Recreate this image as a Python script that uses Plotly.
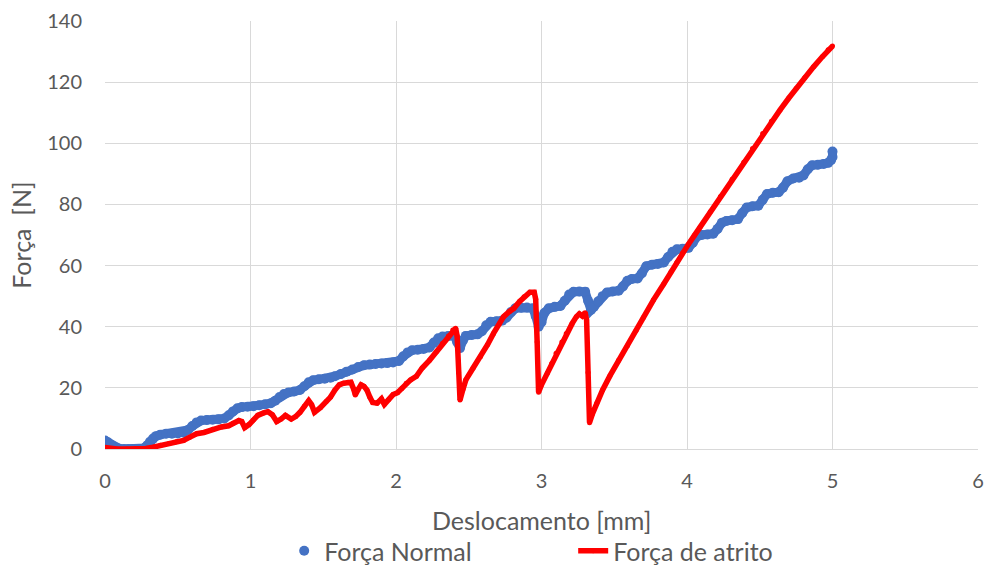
import plotly.graph_objects as go

# Força Normal (blue markers)
normal_x = [0.00, 0.02, 0.04, 0.06, 0.08, 0.10, 0.13, 0.16, 0.19, 0.22, 0.25, 0.27, 0.29, 0.31, 0.33,
            0.35, 0.38, 0.42, 0.46, 0.50, 0.54, 0.57, 0.60, 0.63, 0.66, 0.70, 0.74, 0.78, 0.82, 0.85,
            0.88, 0.91, 0.94, 0.98, 1.02, 1.06, 1.10, 1.14, 1.17, 1.20, 1.23, 1.26, 1.30, 1.34, 1.37,
            1.40, 1.43, 1.47, 1.51, 1.55, 1.58, 1.62, 1.66, 1.70, 1.74, 1.78, 1.82, 1.86, 1.90, 1.94,
            1.98, 2.02, 2.05, 2.08, 2.11, 2.15, 2.19, 2.23, 2.26, 2.29, 2.32, 2.36, 2.40, 2.42, 2.44,
            2.46, 2.48, 2.52, 2.56, 2.59, 2.62, 2.65, 2.69, 2.73, 2.76, 2.79, 2.82, 2.86, 2.90, 2.94,
            2.96, 2.98, 3.00, 3.02, 3.05, 3.09, 3.13, 3.16, 3.19, 3.22, 3.26, 3.30, 3.32, 3.34, 3.36,
            3.39, 3.42, 3.45, 3.49, 3.53, 3.56, 3.59, 3.62, 3.66, 3.69, 3.72, 3.76, 3.80, 3.84, 3.87,
            3.90, 3.93, 3.97, 4.01, 4.04, 4.07, 4.10, 4.14, 4.18, 4.21, 4.24, 4.27, 4.31, 4.35, 4.38,
            4.41, 4.45, 4.49, 4.52, 4.55, 4.59, 4.63, 4.66, 4.69, 4.73, 4.77, 4.80, 4.83, 4.86, 4.90,
            4.94, 4.97, 4.99, 5.00, 5.00]
normal_y = [2.8, 2.2, 1.4, 0.8, 0.4, 0.1, 0.0, 0.0, 0.0, 0.0, 0.0, 0.3, 1.2, 2.4, 3.4,
            4.2, 4.7, 5.0, 5.0, 5.1, 5.3, 6.2, 7.5, 8.7, 9.3, 9.5, 9.6, 9.7, 10.0, 11.0,
            12.3, 13.3, 13.7, 13.8, 14.0, 14.3, 14.6, 15.0, 15.8, 17.0, 18.0, 18.5, 18.8, 19.3, 20.5,
            21.8, 22.5, 22.8, 23.0, 23.3, 23.8, 24.5, 25.3, 26.0, 26.8, 27.4, 27.6, 27.8, 28.0, 28.1,
            28.3, 28.8, 30.3, 31.6, 32.3, 32.5, 32.7, 33.2, 34.8, 36.2, 36.8, 37.0, 37.0, 35.0, 33.0,
            35.5, 37.0, 37.3, 37.5, 38.5, 40.5, 41.6, 41.8, 42.0, 43.0, 44.8, 46.0, 46.2, 46.3, 46.0,
            43.5, 40.0, 41.5, 44.5, 46.0, 46.5, 46.8, 48.5, 50.5, 51.4, 51.5, 51.4, 48.5, 45.5, 46.5,
            48.3, 50.0, 51.2, 51.5, 51.8, 53.2, 55.0, 55.6, 55.8, 57.5, 59.8, 60.3, 60.5, 61.0, 62.8,
            64.5, 65.3, 65.5, 65.8, 67.5, 69.5, 70.0, 70.2, 70.4, 72.0, 74.0, 74.6, 74.8, 75.2, 77.2,
            79.0, 79.4, 79.6, 81.5, 83.4, 83.8, 84.0, 85.5, 87.6, 88.5, 88.7, 89.5, 91.5, 92.8, 93.0,
            93.2, 93.6, 94.5, 95.5, 97.3]

# Força de atrito (red line)
atrito_x = [0.00, 0.03, 0.08, 0.15, 0.22, 0.28, 0.33, 0.38, 0.44, 0.49, 0.54, 0.58, 0.63, 0.68, 0.74,
            0.80, 0.85, 0.88, 0.92, 0.94, 0.96, 0.99, 1.02, 1.05, 1.09, 1.12, 1.15, 1.18, 1.21, 1.24,
            1.28, 1.31, 1.34, 1.37, 1.40, 1.42, 1.44, 1.48, 1.52, 1.55, 1.58, 1.61, 1.64, 1.67, 1.69,
            1.71, 1.72, 1.74, 1.76, 1.78, 1.80, 1.82, 1.84, 1.87, 1.90, 1.92, 1.95, 1.98, 2.01, 2.04,
            2.07, 2.10, 2.14, 2.18, 2.23, 2.28, 2.32, 2.36, 2.39, 2.41, 2.42, 2.43, 2.44, 2.46, 2.48,
            2.53, 2.58, 2.63, 2.67, 2.71, 2.74, 2.78, 2.81, 2.85, 2.88, 2.92, 2.95, 2.96, 2.97, 2.98,
            3.00, 3.04, 3.07, 3.10, 3.14, 3.17, 3.21, 3.24, 3.26, 3.28, 3.29, 3.30, 3.31, 3.32, 3.33,
            3.35, 3.38, 3.42, 3.47, 3.53, 3.59, 3.65, 3.70, 3.77, 3.84, 3.89, 3.93, 3.97, 4.01, 4.05,
            4.09, 4.16, 4.23, 4.31, 4.39, 4.45, 4.52, 4.58, 4.64, 4.70, 4.75, 4.81, 4.87, 4.93, 4.97,
            5.00]
atrito_y = [0.5, 0.2, 0.0, 0.0, 0.0, 0.2, 0.6, 1.2, 1.8, 2.4, 2.8, 3.8, 5.0, 5.4, 6.5,
            7.2, 7.6, 8.4, 9.3, 9.0, 7.0, 8.0, 9.5, 11.0, 11.8, 12.2, 11.2, 9.0, 9.8, 11.0,
            9.8, 10.6, 12.0, 14.0, 15.8, 14.5, 12.0, 13.5, 15.5, 17.0, 19.3, 21.0, 21.5, 21.8, 21.8,
            19.5, 17.7, 19.5, 21.0, 20.5, 19.3, 17.0, 15.2, 15.0, 16.4, 14.6, 16.2, 17.8, 18.4, 19.8,
            21.5, 22.6, 23.8, 26.5, 29.0, 32.0, 34.6, 37.0, 38.9, 39.5, 37.0, 25.0, 16.0, 19.5, 22.6,
            26.5, 30.2, 34.2, 37.8, 41.0, 43.3, 45.0, 46.0, 48.3, 49.8, 51.3, 51.3, 49.0, 35.0, 18.6,
            21.0, 24.8, 28.0, 31.3, 35.0, 37.8, 41.0, 43.3, 44.2, 43.5, 43.8, 44.6, 42.2, 25.0, 8.6,
            11.5, 15.0, 19.3, 23.9, 29.0, 33.8, 38.8, 43.0, 48.8, 54.0, 58.0, 61.0, 64.1, 67.0, 69.8,
            72.6, 77.6, 82.6, 88.2, 93.8, 98.3, 103.2, 107.2, 110.9, 114.8, 117.9, 121.5, 125.0, 128.3, 130.6,
            131.8]

x_ticks = [0, 1, 2, 3, 4, 5, 6]
y_ticks = [0, 20, 40, 60, 80, 100, 120, 140]
x_title = "Deslocamento [mm]"
y_title = "Força\u00a0 [N]"

FONT = "Lato, 'Open Sans', sans-serif"
GREY = "#595959"
GRID = "#d9d9d9"
BLUE = "#4472C4"
RED = "#FF0000"

fig = go.Figure()
# smooth backing band for the dense blue markers
fig.add_trace(go.Scatter(
    x=normal_x, y=normal_y, mode="lines", showlegend=False, hoverinfo="skip",
    line=dict(color=BLUE, width=9),
))
fig.add_trace(go.Scatter(
    x=normal_x, y=normal_y, mode="markers", name="Força Normal",
    marker=dict(color=BLUE, size=10, line=dict(width=0)),
))
fig.add_trace(go.Scatter(
    x=atrito_x, y=atrito_y, mode="lines+markers", name="Força de atrito",
    line=dict(color=RED, width=5.5),
    marker=dict(color=RED, size=5),
))

fig.update_layout(
    width=985, height=566,
    margin=dict(l=105, r=7, t=21, b=117, autoexpand=False),
    paper_bgcolor="white", plot_bgcolor="white",
    font=dict(family=FONT, color=GREY, size=20),
    showlegend=True,
    legend=dict(
        orientation="h", xref="container", x=296 / 985 - 0.012, xanchor="left",
        yref="container", y=(566 - 551) / 566, yanchor="middle",
        font=dict(size=25, color=GREY), entrywidth=244, entrywidthmode="pixels",
        bgcolor="rgba(0,0,0,0)",
    ),
    xaxis=dict(
        range=[0, 6], tickvals=x_ticks, ticktext=[str(v) for v in x_ticks],
        showgrid=True, gridcolor=GRID, gridwidth=1,
        showline=True, linecolor=GRID, linewidth=1,
        zeroline=False, ticks="", ticklabelstandoff=14, automargin=False,
        tickfont=dict(size=20, color=GREY),
    ),
    yaxis=dict(
        range=[0, 140], tickvals=y_ticks, ticktext=[str(v) for v in y_ticks],
        showgrid=True, gridcolor=GRID, gridwidth=1,
        showline=False, zeroline=False, ticks="", ticklabelstandoff=22, automargin=False,
        tickfont=dict(size=20, color=GREY),
        title=dict(text=y_title, font=dict(size=25, color=GREY), standoff=8),
    ),
    annotations=[dict(
        text=x_title, xref="paper", yref="paper", x=0.5, y=-0.166,
        xanchor="center", yanchor="middle", showarrow=False,
        font=dict(size=25, color=GREY),
    )],
)

fig.write_html(
    "out.html",
    config={"displayModeBar": False},
    post_script="document.body.style.margin='0';document.body.style.overflow='hidden';",
)
